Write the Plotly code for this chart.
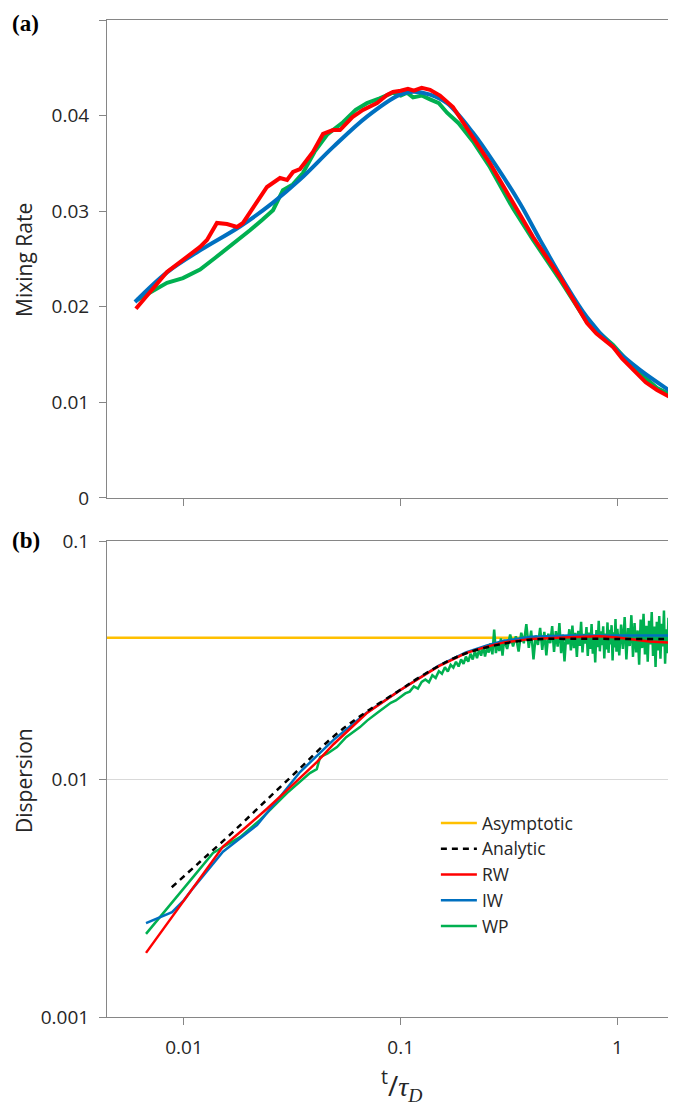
import plotly.graph_objects as go

# ---------------- Panel (a): Mixing rate ----------------
iw_a_x = [0.00594, 0.00835, 0.01186, 0.01813, 0.02575, 0.03428, 0.04871, 0.06989, 0.0993, 0.114,
          0.1366, 0.1636, 0.2156, 0.2782, 0.3553, 0.4397, 0.561, 0.724, 0.955, 1.271, 1.86]
iw_a_y = [0.0205, 0.0236, 0.0259, 0.0284, 0.0309, 0.0333, 0.0367, 0.0399, 0.0422, 0.0425,
          0.0422, 0.0413, 0.0382, 0.0346, 0.0308, 0.0270, 0.0228, 0.0189, 0.0158, 0.0134, 0.0108]

rw_a_x = [0.0060, 0.00835, 0.01186, 0.01277, 0.01419, 0.01579, 0.01757, 0.01872, 0.02415, 0.02773,
          0.0299, 0.03186, 0.0343, 0.03936, 0.0438, 0.0487, 0.05248, 0.0599, 0.06699, 0.0778,
          0.0865, 0.0921, 0.100, 0.108, 0.115, 0.125, 0.1366, 0.1518, 0.1742, 0.2156,
          0.2582, 0.3296, 0.4081, 0.5433, 0.7241, 0.80, 0.955, 1.05, 1.18, 1.35, 1.523, 1.863]
rw_a_y = [0.0198, 0.02364, 0.02626, 0.02699, 0.02877, 0.02866, 0.02835, 0.02877, 0.03253, 0.03347,
          0.03326, 0.0341, 0.03441, 0.03619, 0.03808, 0.03849, 0.03849, 0.03985, 0.04059, 0.04132,
          0.04215, 0.04247, 0.0426, 0.0428, 0.0426, 0.0429, 0.0427, 0.0421, 0.0409, 0.0378,
          0.0350, 0.0309, 0.0273, 0.0231, 0.0183, 0.0172, 0.0158, 0.0146, 0.0134, 0.0121, 0.0113, 0.0102]

wp_a_x = [0.00607, 0.00835, 0.00989, 0.01186, 0.0139, 0.01629, 0.02016, 0.0230, 0.02575, 0.02862,
          0.0318, 0.0354, 0.0400, 0.04571, 0.05418, 0.0620, 0.06989, 0.0800, 0.09205, 0.1000,
          0.107, 0.114, 0.125, 0.1366, 0.1500, 0.1636, 0.185, 0.2156, 0.2582, 0.3296,
          0.4081, 0.5433, 0.7241, 0.955, 1.18, 1.523, 1.863]
wp_a_y = [0.0207, 0.0225, 0.0230, 0.0239, 0.0251, 0.0263, 0.0280, 0.0291, 0.0301, 0.0322,
          0.0328, 0.0340, 0.0362, 0.0380, 0.0393, 0.0406, 0.0413, 0.0418, 0.0424, 0.0421,
          0.0424, 0.0419, 0.0421, 0.0417, 0.0413, 0.0403, 0.0392, 0.0373, 0.0346, 0.0303,
          0.0270, 0.0228, 0.0184, 0.0160, 0.0137, 0.0115, 0.0105]

# ---------------- Panel (b): Dispersion ----------------
asym_x = [0.004, 2.0]
asym_y = [0.0392, 0.0392]

an_x = [0.00878, 0.01186, 0.01689, 0.02407, 0.0343, 0.04887, 0.0696, 0.0993, 0.1227, 0.1686,
        0.209, 0.287, 0.408, 0.6, 1.0, 1.86]
an_y = [0.00351, 0.00449, 0.00601, 0.00817, 0.01109, 0.01507, 0.01919, 0.02366, 0.02685, 0.0316,
        0.0342, 0.0368, 0.0386, 0.0388, 0.0388, 0.0388]

rw_b_x = [0.00668, 0.00881, 0.01101, 0.01513, 0.0190, 0.02415, 0.0300, 0.0343, 0.04111, 0.0490,
          0.0696, 0.0993, 0.125, 0.15, 0.2, 0.25, 0.3, 0.4, 0.6, 0.83,
          1.0, 1.2, 1.4, 1.86]
rw_b_y = [0.00186, 0.00263, 0.00348, 0.0052, 0.0062, 0.0075, 0.0090, 0.0101, 0.0118, 0.0140,
          0.0189, 0.0236, 0.0268, 0.0298, 0.0338, 0.0360, 0.0375, 0.0388, 0.0394, 0.0398,
          0.0393, 0.0384, 0.0378, 0.0373]

iw_b_x = [0.00668, 0.00881, 0.0100, 0.01101, 0.01513, 0.0190, 0.02173, 0.0280, 0.0343, 0.0490,
          0.0696, 0.0993, 0.125, 0.15, 0.2, 0.25, 0.3, 0.4, 0.6, 1.0, 1.86]
iw_b_y = [0.00248, 0.00276, 0.0031, 0.00348, 0.00495, 0.0058, 0.0064, 0.0085, 0.0107, 0.0146,
          0.0190, 0.0236, 0.0270, 0.0300, 0.0340, 0.0364, 0.0381, 0.0396, 0.0401, 0.0401, 0.0401]

wp_b_x_rise = [0.00668, 0.00881, 0.01101, 0.01361, 0.01813, 0.02244, 0.02986, 0.0381, 0.0410, 0.04246,
               0.0460, 0.0508, 0.0560, 0.0649, 0.0700, 0.0778]
wp_b_y_rise = [0.002234, 0.003012, 0.00387, 0.00489, 0.0057, 0.00673, 0.00873, 0.01059, 0.0110, 0.01236,
               0.0128, 0.01362, 0.0150, 0.01652, 0.0176, 0.01892]

wp_b_x_mid = [0.080, 0.085, 0.090, 0.095, 0.100, 0.105, 0.110, 0.115, 0.120, 0.125,
              0.130, 0.135, 0.140, 0.145, 0.150, 0.155, 0.160, 0.165, 0.170, 0.175,
              0.180, 0.185, 0.190, 0.195, 0.200, 0.205, 0.210, 0.215, 0.220, 0.225,
              0.230, 0.235, 0.240, 0.245, 0.250, 0.255, 0.260, 0.265, 0.270, 0.275,
              0.280, 0.285, 0.290, 0.295, 0.300]
wp_b_y_mid = [0.0193, 0.0202, 0.0209, 0.0214, 0.0221, 0.0229, 0.0233, 0.0245, 0.0240, 0.0256,
              0.0262, 0.0255, 0.0273, 0.0266, 0.0284, 0.0277, 0.0295, 0.0283, 0.0302, 0.0294,
              0.0311, 0.0297, 0.0318, 0.0305, 0.0327, 0.0311, 0.0336, 0.0318, 0.0345, 0.0322,
              0.0350, 0.0330, 0.0361, 0.0327, 0.0356, 0.0340, 0.0372, 0.0334, 0.0425, 0.0338,
              0.0372, 0.0345, 0.0390, 0.0330, 0.0384]

wp_b_x_plat = [0.31, 0.32, 0.33, 0.34, 0.35, 0.36, 0.37, 0.38, 0.39, 0.40,
               0.41, 0.42, 0.43, 0.44, 0.45, 0.46, 0.47, 0.48, 0.49, 0.50,
               0.51, 0.52, 0.53, 0.54, 0.55, 0.56, 0.57, 0.58, 0.59, 0.60,
               0.61, 0.62, 0.63, 0.64, 0.65, 0.66, 0.67, 0.68, 0.69, 0.70,
               0.71, 0.72, 0.73, 0.74, 0.75, 0.76, 0.77, 0.78, 0.79, 0.80,
               0.81, 0.82, 0.83, 0.84, 0.85, 0.86, 0.87, 0.88, 0.89, 0.90,
               0.91, 0.92, 0.93, 0.94, 0.95, 0.96, 0.97, 0.98, 0.99, 1.00]
wp_b_y_plat = [0.0352, 0.0405, 0.0361, 0.0398, 0.0343, 0.0412, 0.0372, 0.0447, 0.0356, 0.0420,
               0.0318, 0.0401, 0.0366, 0.0432, 0.0349, 0.0415, 0.0331, 0.0408, 0.0372, 0.0439,
               0.0342, 0.0418, 0.0360, 0.0452, 0.0338, 0.0404, 0.0312, 0.0396, 0.0368, 0.0426,
               0.0347, 0.0441, 0.0355, 0.0411, 0.0326, 0.0419, 0.0363, 0.0458, 0.0340, 0.0407,
               0.0371, 0.0435, 0.0329, 0.0412, 0.0352, 0.0448, 0.0336, 0.0401, 0.0309, 0.0423,
               0.0358, 0.0462, 0.0344, 0.0417, 0.0365, 0.0438, 0.0321, 0.0409, 0.0350, 0.0455,
               0.0339, 0.0424, 0.0368, 0.0443, 0.0315, 0.0414, 0.0357, 0.0470, 0.0343, 0.0428]

wp_b_x_end = [1.02, 1.04, 1.06, 1.08, 1.10, 1.12, 1.14, 1.16, 1.18, 1.20,
              1.22, 1.24, 1.26, 1.28, 1.30, 1.32, 1.34, 1.36, 1.38, 1.40,
              1.42, 1.44, 1.46, 1.48, 1.50, 1.52, 1.54, 1.56, 1.58, 1.60,
              1.62, 1.64, 1.66, 1.68, 1.70, 1.72, 1.74, 1.76, 1.78, 1.80,
              1.82, 1.84, 1.86]
wp_b_y_end = [0.0331, 0.0446, 0.0352, 0.0479, 0.0318, 0.0431, 0.0362, 0.0488, 0.0326, 0.0452,
              0.0340, 0.0421, 0.0302, 0.0468, 0.0355, 0.0495, 0.0334, 0.0440, 0.0311, 0.0462,
              0.0368, 0.0503, 0.0329, 0.0437, 0.0296, 0.0458, 0.0347, 0.0484, 0.0320, 0.0449,
              0.0361, 0.0511, 0.0305, 0.0426, 0.0338, 0.0476, 0.0293, 0.0455, 0.0350, 0.0497,
              0.0324, 0.0466, 0.0341]

wp_b_x = wp_b_x_rise + wp_b_x_mid + wp_b_x_plat + wp_b_x_end
wp_b_y = wp_b_y_rise + wp_b_y_mid + wp_b_y_plat + wp_b_y_end

x_tickvals = [0.01, 0.1, 1]
x_ticktext = ["0.01", "0.1", "1"]
ya_tickvals = [0, 0.01, 0.02, 0.03, 0.04, 0.05]
ya_ticktext = ["0", "0.01", "0.02", "0.03", "0.04", "0.05"]
yb_tickvals = [0.001, 0.01, 0.1]
yb_ticktext = ["0.001", "0.01", "0.1"]

RED = "#FF0000"
BLUE = "#0070C0"
GREEN = "#00B050"
ORANGE = "#FFC000"
AXC = "#868686"
FONT = "Open Sans"
TXT = "#262626"

fig = go.Figure()

# panel (a)
fig.add_trace(go.Scatter(x=wp_a_x, y=wp_a_y, mode="lines", line=dict(color=GREEN, width=4),
                         xaxis="x", yaxis="y", showlegend=False))
fig.add_trace(go.Scatter(x=iw_a_x, y=iw_a_y, mode="lines", line=dict(color=BLUE, width=4, shape="spline"),
                         xaxis="x", yaxis="y", showlegend=False))
fig.add_trace(go.Scatter(x=rw_a_x, y=rw_a_y, mode="lines", line=dict(color=RED, width=4),
                         xaxis="x", yaxis="y", showlegend=False))

# panel (b)
fig.add_trace(go.Scatter(x=asym_x, y=asym_y, mode="lines", name="Asymptotic",
                         line=dict(color=ORANGE, width=2.5), xaxis="x2", yaxis="y2", legendrank=1))
fig.add_trace(go.Scatter(x=wp_b_x, y=wp_b_y, mode="lines", name="WP",
                         line=dict(color=GREEN, width=2.5), xaxis="x2", yaxis="y2", legendrank=5))
fig.add_trace(go.Scatter(x=iw_b_x, y=iw_b_y, mode="lines", name="IW",
                         line=dict(color=BLUE, width=2.5), xaxis="x2", yaxis="y2", legendrank=4))
fig.add_trace(go.Scatter(x=rw_b_x, y=rw_b_y, mode="lines", name="RW",
                         line=dict(color=RED, width=2.5), xaxis="x2", yaxis="y2", legendrank=3))
fig.add_trace(go.Scatter(x=an_x, y=an_y, mode="lines", name="Analytic",
                         line=dict(color="black", width=2.5, dash="6px,5px", shape="spline"),
                         xaxis="x2", yaxis="y2", legendrank=2))

tickfont = dict(family=FONT, size=19, color=TXT)
common_x = dict(type="log", range=[-2.3553, 0.2704], showline=True, linecolor=AXC, linewidth=1,
                mirror=True, ticks="outside", ticklen=7, tickcolor=AXC, tickvals=x_tickvals,
                ticktext=x_ticktext, showgrid=False, zeroline=False, tickfont=tickfont)

# the page body adds an 8px offset: plot area spans page px 107..676 (x) and 20..1017 (y)
fig.update_layout(
    width=668, height=1101,
    margin=dict(l=99, r=0, t=12, b=92),
    paper_bgcolor="white", plot_bgcolor="white",
    font=dict(family=FONT, color=TXT),
    xaxis=dict(common_x, anchor="y", domain=[0, 1], showticklabels=False),
    yaxis=dict(domain=[0.5206, 1], range=[0, 0.05], anchor="x", showline=True, linecolor=AXC,
               ticks="outside", ticklen=7, tickcolor=AXC, tickvals=ya_tickvals, ticktext=ya_ticktext,
               showgrid=False, zeroline=False, tickfont=tickfont, ticklabelstandoff=6),
    xaxis2=dict(common_x, anchor="y2", domain=[0, 1], showticklabels=True, ticklabelstandoff=6),
    yaxis2=dict(type="log", domain=[0, 0.4774], range=[-3, -1], anchor="x2", showline=True, linecolor=AXC,
                ticks="outside", ticklen=7, tickcolor=AXC, tickvals=yb_tickvals, ticktext=yb_ticktext,
                showgrid=True, gridcolor="#d9d9d9", zeroline=False, tickfont=tickfont, ticklabelstandoff=6),
    legend=dict(x=0.578, y=0.2126, xanchor="left", yanchor="top", bgcolor="rgba(0,0,0,0)",
                font=dict(family=FONT, size=17.5, color=TXT), itemwidth=36, tracegroupgap=0),
    annotations=[
        dict(text="<b>(a)</b>", xref="paper", yref="paper", x=-0.1705, y=0.9965, xanchor="left",
             yanchor="middle", showarrow=False, font=dict(family="Liberation Serif", size=23, color="black")),
        dict(text="<b>(b)</b>", xref="paper", yref="paper", x=-0.1705, y=0.4784, xanchor="left",
             yanchor="middle", showarrow=False, font=dict(family="Liberation Serif", size=23, color="black")),
        dict(text="Mixing Rate", xref="paper", yref="paper", x=-0.1460, y=0.7593, xanchor="center",
             yanchor="middle", textangle=-90, showarrow=False, font=dict(family=FONT, size=21, color=TXT)),
        dict(text="Dispersion", xref="paper", yref="paper", x=-0.1460, y=0.2377, xanchor="center",
             yanchor="middle", textangle=-90, showarrow=False, font=dict(family=FONT, size=21, color=TXT)),
        dict(text="<sup>t</sup>/<i><span style='font-family:Liberation Serif'>τ<sub>D</sub></span></i>",
             xref="paper", yref="paper", x=(401 - 107) / 569, y=-0.0682, xanchor="center", yanchor="middle",
             showarrow=False, font=dict(family=FONT, size=28, color=TXT)),
    ],
)

fig.write_html("out.html")
